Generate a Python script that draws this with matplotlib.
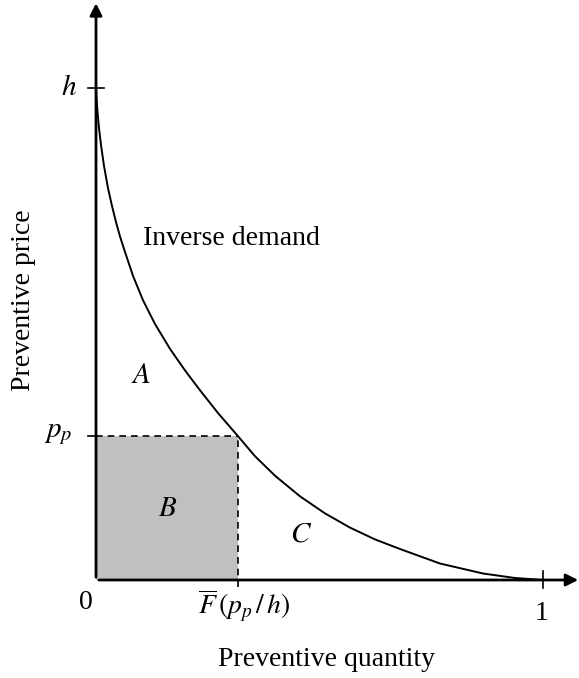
import matplotlib
matplotlib.use("Agg")
import matplotlib.pyplot as plt

plt.rcParams['font.family'] = ['Liberation Serif', 'DejaVu Serif']
plt.rcParams['mathtext.fontset'] = 'stix'

# Inverse demand curve (quantity share, price / h)
quantity = [0.0, 0.0011, 0.0034, 0.0067, 0.0112, 0.0179, 0.0268, 0.0358, 0.0447,
            0.0537, 0.0649, 0.0828, 0.1051, 0.1320, 0.1655, 0.1991, 0.2327,
            0.2729, 0.317, 0.3557, 0.4004, 0.4564, 0.5123, 0.5682, 0.6242,
            0.6801, 0.7696, 0.8658, 0.9374, 1.0]
price = [1.0, 0.9797, 0.9512, 0.9187, 0.8841, 0.8415, 0.7967, 0.7602, 0.7276,
         0.6982, 0.6667, 0.6181, 0.5687, 0.5203, 0.4699, 0.4260, 0.3856,
         0.3394, 0.293, 0.2516, 0.2120, 0.1701, 0.1354, 0.1065, 0.0825,
         0.0630, 0.0335, 0.0132, 0.0041, 0.0]
p_p = 0.293
q_p = 0.317

fig = plt.figure(figsize=(5.79, 6.78), dpi=100)
ax = fig.add_axes([96/579, (678-580)/678, 447/579, 492/678])
ax.set_xlim(0, 1)
ax.set_ylim(0, 1)
ax.axis('off')

# shaded area B
ax.fill_between([0, q_p], 0, p_p, color='#c0c0c0', lw=0, zorder=1)
# dashed guides
ax.plot([0, q_p], [p_p, p_p], 'k--', lw=1.2, dashes=(4, 3), zorder=2, clip_on=False)
ax.plot([q_p, q_p], [-0.015, p_p], 'k--', lw=1.2, dashes=(4, 3), zorder=2, clip_on=False)
# curve
ax.plot(quantity, price, color='black', lw=1.4, zorder=3, clip_on=False,
        solid_joinstyle='round')

# axes arrows
ax.annotate('', xy=(1.085, 0), xytext=(0, 0),
            arrowprops=dict(arrowstyle='-|>', color='black', lw=2, mutation_scale=18),
            annotation_clip=False)
ax.annotate('', xy=(0, 1.178), xytext=(0, 0),
            arrowprops=dict(arrowstyle='-|>', color='black', lw=2, mutation_scale=18),
            annotation_clip=False)
# ticks
ax.plot([-0.018, 0.018], [1, 1], color='black', lw=1.2, clip_on=False)
ax.plot([1, 1], [-0.016, 0.018], color='black', lw=1.2, clip_on=False)
ax.plot([-0.018, 0], [p_p, p_p], color='black', lw=1.2, clip_on=False)

fs = 20
ax.text(-0.06, 1.0, '$h$', fontsize=fs + 1, ha='center', va='center')
ax.text(-0.085, p_p + 0.003, '$p_p$', fontsize=fs + 1, ha='center', va='center')
ax.text(-0.022, -0.045, '0', fontsize=fs, ha='center', va='center')
ax.text(0.996, -0.068, '1', fontsize=fs, ha='center', va='center')
ax.text(q_p + 0.015, -0.052, r'$\overline{F}\,(p_p\,/\,h)$', fontsize=fs, ha='center', va='center')
ax.text(0.105, 0.695, 'Inverse demand', fontsize=fs, ha='left', va='center')
ax.text(0.101, 0.415, '$A$', fontsize=fs + 1, ha='center', va='center')
ax.text(0.16, 0.145, '$B$', fontsize=fs + 1, ha='center', va='center')
ax.text(0.458, 0.093, '$C$', fontsize=fs + 1, ha='center', va='center')

fig.text(24/579, 1 - 300/678, 'Preventive price', fontsize=fs, rotation=90,
         ha='center', va='center')
fig.text(326/579, 1 - 659/678, 'Preventive quantity', fontsize=fs,
         ha='center', va='center')

fig.savefig('out.png', dpi=100)
